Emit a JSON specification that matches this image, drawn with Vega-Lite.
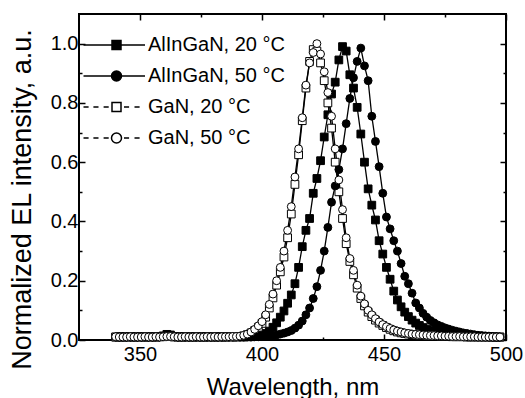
{
"$schema": "https://vega.github.io/schema/vega-lite/v6.json",
"width": 427, "height": 326,
"autosize": "none",
"padding": {"left": 79, "top": 14, "right": 19, "bottom": 58},
"background": "white",
"config": {
  "view": {"stroke": "black", "strokeWidth": 2},
  "font": "Liberation Sans",
  "axis": {"domain": false, "grid": false, "tickColor": "black", "tickWidth": 1.5, "labelColor": "black", "labelFont": "Liberation Sans", "labelFontSize": 20, "titleFont": "Liberation Sans", "titleColor": "black", "titleFontWeight": "normal", "labelFlush": false, "labelOverlap": false},
  "legend": {"labelFont": "Liberation Sans", "labelColor": "black", "symbolOpacity": 1}
},
"data": {"values": [
{"s":"A20","w":340,"v":0.01},{"s":"A20","w":341.5,"v":0.011},{"s":"A20","w":343,"v":0.01},{"s":"A20","w":344.5,"v":0.01},{"s":"A20","w":346,"v":0.011},{"s":"A20","w":347.5,"v":0.01},{"s":"A20","w":349,"v":0.01},{"s":"A20","w":350.5,"v":0.011},{"s":"A20","w":352,"v":0.01},{"s":"A20","w":353.5,"v":0.01},{"s":"A20","w":355,"v":0.011},{"s":"A20","w":356.5,"v":0.01},{"s":"A20","w":358,"v":0.011},{"s":"A20","w":359.5,"v":0.014},{"s":"A20","w":361,"v":0.019},{"s":"A20","w":362.5,"v":0.017},{"s":"A20","w":364,"v":0.012},{"s":"A20","w":365.5,"v":0.01},{"s":"A20","w":367,"v":0.01},{"s":"A20","w":368.5,"v":0.011},{"s":"A20","w":370,"v":0.01},{"s":"A20","w":371.5,"v":0.01},{"s":"A20","w":373,"v":0.011},{"s":"A20","w":374.5,"v":0.01},{"s":"A20","w":376,"v":0.01},{"s":"A20","w":377.5,"v":0.011},{"s":"A20","w":379,"v":0.01},{"s":"A20","w":380.5,"v":0.01},{"s":"A20","w":382,"v":0.011},{"s":"A20","w":383.5,"v":0.01},{"s":"A20","w":385,"v":0.01},{"s":"A20","w":386.5,"v":0.011},{"s":"A20","w":388,"v":0.01},{"s":"A20","w":389.5,"v":0.01},{"s":"A20","w":391,"v":0.011},{"s":"A20","w":392.5,"v":0.01},{"s":"A20","w":394,"v":0.011},{"s":"A20","w":395.5,"v":0.011},{"s":"A20","w":397,"v":0.012},{"s":"A20","w":398.5,"v":0.014},{"s":"A20","w":400,"v":0.017},{"s":"A20","w":401.5,"v":0.022},{"s":"A20","w":403,"v":0.03},{"s":"A20","w":404.5,"v":0.043},{"s":"A20","w":406,"v":0.058},{"s":"A20","w":407.5,"v":0.077},{"s":"A20","w":409,"v":0.098},{"s":"A20","w":410.5,"v":0.124},{"s":"A20","w":412,"v":0.152},{"s":"A20","w":413.5,"v":0.19},{"s":"A20","w":415,"v":0.245},{"s":"A20","w":416.5,"v":0.315},{"s":"A20","w":418,"v":0.37},{"s":"A20","w":419.5,"v":0.41},{"s":"A20","w":421,"v":0.495},{"s":"A20","w":422.5,"v":0.545},{"s":"A20","w":424,"v":0.605},{"s":"A20","w":425.5,"v":0.685},{"s":"A20","w":427,"v":0.76},{"s":"A20","w":428.5,"v":0.83},{"s":"A20","w":430,"v":0.87},{"s":"A20","w":431.5,"v":0.945},{"s":"A20","w":433,"v":0.99},{"s":"A20","w":434.5,"v":0.975},{"s":"A20","w":436,"v":0.895},{"s":"A20","w":437.5,"v":0.85},{"s":"A20","w":439,"v":0.785},{"s":"A20","w":440.5,"v":0.695},{"s":"A20","w":442,"v":0.6},{"s":"A20","w":443.5,"v":0.51},{"s":"A20","w":445,"v":0.455},{"s":"A20","w":446.5,"v":0.405},{"s":"A20","w":448,"v":0.335},{"s":"A20","w":449.5,"v":0.29},{"s":"A20","w":451,"v":0.245},{"s":"A20","w":452.5,"v":0.205},{"s":"A20","w":454,"v":0.165},{"s":"A20","w":455.5,"v":0.135},{"s":"A20","w":457,"v":0.112},{"s":"A20","w":458.5,"v":0.094},{"s":"A20","w":460,"v":0.079},{"s":"A20","w":461.5,"v":0.067},{"s":"A20","w":463,"v":0.057},{"s":"A20","w":464.5,"v":0.049},{"s":"A20","w":466,"v":0.042},{"s":"A20","w":467.5,"v":0.037},{"s":"A20","w":469,"v":0.032},{"s":"A20","w":470.5,"v":0.028},{"s":"A20","w":472,"v":0.025},{"s":"A20","w":473.5,"v":0.022},{"s":"A20","w":475,"v":0.02},{"s":"A20","w":476.5,"v":0.018},{"s":"A20","w":478,"v":0.017},{"s":"A20","w":479.5,"v":0.016},{"s":"A20","w":481,"v":0.015},{"s":"A20","w":482.5,"v":0.014},{"s":"A20","w":484,"v":0.013},{"s":"A20","w":485.5,"v":0.013},{"s":"A20","w":487,"v":0.012},{"s":"A20","w":488.5,"v":0.012},{"s":"A20","w":490,"v":0.011},{"s":"A20","w":491.5,"v":0.011},{"s":"A20","w":493,"v":0.011},{"s":"A20","w":494.5,"v":0.01},{"s":"A20","w":496,"v":0.01},{"s":"A20","w":497.5,"v":0.01},
{"s":"A50","w":340,"v":0.01},{"s":"A50","w":341.5,"v":0.01},{"s":"A50","w":343,"v":0.011},{"s":"A50","w":344.5,"v":0.01},{"s":"A50","w":346,"v":0.01},{"s":"A50","w":347.5,"v":0.011},{"s":"A50","w":349,"v":0.01},{"s":"A50","w":350.5,"v":0.01},{"s":"A50","w":352,"v":0.011},{"s":"A50","w":353.5,"v":0.01},{"s":"A50","w":355,"v":0.01},{"s":"A50","w":356.5,"v":0.011},{"s":"A50","w":358,"v":0.01},{"s":"A50","w":359.5,"v":0.012},{"s":"A50","w":361,"v":0.016},{"s":"A50","w":362.5,"v":0.015},{"s":"A50","w":364,"v":0.011},{"s":"A50","w":365.5,"v":0.01},{"s":"A50","w":367,"v":0.011},{"s":"A50","w":368.5,"v":0.01},{"s":"A50","w":370,"v":0.01},{"s":"A50","w":371.5,"v":0.011},{"s":"A50","w":373,"v":0.01},{"s":"A50","w":374.5,"v":0.01},{"s":"A50","w":376,"v":0.011},{"s":"A50","w":377.5,"v":0.01},{"s":"A50","w":379,"v":0.01},{"s":"A50","w":380.5,"v":0.011},{"s":"A50","w":382,"v":0.01},{"s":"A50","w":383.5,"v":0.01},{"s":"A50","w":385,"v":0.011},{"s":"A50","w":386.5,"v":0.01},{"s":"A50","w":388,"v":0.01},{"s":"A50","w":389.5,"v":0.011},{"s":"A50","w":391,"v":0.01},{"s":"A50","w":392.5,"v":0.01},{"s":"A50","w":394,"v":0.011},{"s":"A50","w":395.5,"v":0.01},{"s":"A50","w":397,"v":0.011},{"s":"A50","w":398.5,"v":0.011},{"s":"A50","w":400,"v":0.011},{"s":"A50","w":401.5,"v":0.012},{"s":"A50","w":403,"v":0.013},{"s":"A50","w":404.5,"v":0.015},{"s":"A50","w":406,"v":0.017},{"s":"A50","w":407.5,"v":0.02},{"s":"A50","w":409,"v":0.023},{"s":"A50","w":410.5,"v":0.027},{"s":"A50","w":412,"v":0.032},{"s":"A50","w":413.5,"v":0.04},{"s":"A50","w":415,"v":0.05},{"s":"A50","w":416.5,"v":0.064},{"s":"A50","w":418,"v":0.085},{"s":"A50","w":419.5,"v":0.108},{"s":"A50","w":421,"v":0.14},{"s":"A50","w":422.5,"v":0.18},{"s":"A50","w":424,"v":0.235},{"s":"A50","w":425.5,"v":0.3},{"s":"A50","w":427,"v":0.38},{"s":"A50","w":428.5,"v":0.465},{"s":"A50","w":430,"v":0.52},{"s":"A50","w":431.5,"v":0.575},{"s":"A50","w":433,"v":0.645},{"s":"A50","w":434.5,"v":0.73},{"s":"A50","w":436,"v":0.815},{"s":"A50","w":437.5,"v":0.885},{"s":"A50","w":439,"v":0.94},{"s":"A50","w":440.5,"v":0.985},{"s":"A50","w":442,"v":0.925},{"s":"A50","w":443.5,"v":0.875},{"s":"A50","w":445,"v":0.755},{"s":"A50","w":446.5,"v":0.67},{"s":"A50","w":448,"v":0.585},{"s":"A50","w":449.5,"v":0.495},{"s":"A50","w":451,"v":0.415},{"s":"A50","w":452.5,"v":0.375},{"s":"A50","w":454,"v":0.335},{"s":"A50","w":455.5,"v":0.3},{"s":"A50","w":457,"v":0.258},{"s":"A50","w":458.5,"v":0.215},{"s":"A50","w":460,"v":0.19},{"s":"A50","w":461.5,"v":0.158},{"s":"A50","w":463,"v":0.125},{"s":"A50","w":464.5,"v":0.108},{"s":"A50","w":466,"v":0.09},{"s":"A50","w":467.5,"v":0.077},{"s":"A50","w":469,"v":0.066},{"s":"A50","w":470.5,"v":0.058},{"s":"A50","w":472,"v":0.051},{"s":"A50","w":473.5,"v":0.046},{"s":"A50","w":475,"v":0.041},{"s":"A50","w":476.5,"v":0.037},{"s":"A50","w":478,"v":0.033},{"s":"A50","w":479.5,"v":0.03},{"s":"A50","w":481,"v":0.027},{"s":"A50","w":482.5,"v":0.024},{"s":"A50","w":484,"v":0.022},{"s":"A50","w":485.5,"v":0.02},{"s":"A50","w":487,"v":0.018},{"s":"A50","w":488.5,"v":0.016},{"s":"A50","w":490,"v":0.015},{"s":"A50","w":491.5,"v":0.014},{"s":"A50","w":493,"v":0.013},{"s":"A50","w":494.5,"v":0.012},{"s":"A50","w":496,"v":0.011},{"s":"A50","w":497.5,"v":0.01},
{"s":"G20","w":340,"v":0.01},{"s":"G20","w":341.5,"v":0.01},{"s":"G20","w":343,"v":0.01},{"s":"G20","w":344.5,"v":0.011},{"s":"G20","w":346,"v":0.01},{"s":"G20","w":347.5,"v":0.01},{"s":"G20","w":349,"v":0.011},{"s":"G20","w":350.5,"v":0.01},{"s":"G20","w":352,"v":0.01},{"s":"G20","w":353.5,"v":0.011},{"s":"G20","w":355,"v":0.01},{"s":"G20","w":356.5,"v":0.01},{"s":"G20","w":358,"v":0.011},{"s":"G20","w":359.5,"v":0.011},{"s":"G20","w":361,"v":0.013},{"s":"G20","w":362.5,"v":0.012},{"s":"G20","w":364,"v":0.01},{"s":"G20","w":365.5,"v":0.011},{"s":"G20","w":367,"v":0.01},{"s":"G20","w":368.5,"v":0.01},{"s":"G20","w":370,"v":0.011},{"s":"G20","w":371.5,"v":0.01},{"s":"G20","w":373,"v":0.01},{"s":"G20","w":374.5,"v":0.011},{"s":"G20","w":376,"v":0.01},{"s":"G20","w":377.5,"v":0.01},{"s":"G20","w":379,"v":0.011},{"s":"G20","w":380.5,"v":0.01},{"s":"G20","w":382,"v":0.01},{"s":"G20","w":383.5,"v":0.011},{"s":"G20","w":385,"v":0.01},{"s":"G20","w":386.5,"v":0.011},{"s":"G20","w":388,"v":0.011},{"s":"G20","w":389.5,"v":0.011},{"s":"G20","w":391,"v":0.012},{"s":"G20","w":392.5,"v":0.014},{"s":"G20","w":394,"v":0.018},{"s":"G20","w":395.5,"v":0.024},{"s":"G20","w":397,"v":0.032},{"s":"G20","w":398.5,"v":0.043},{"s":"G20","w":400,"v":0.056},{"s":"G20","w":401.5,"v":0.077},{"s":"G20","w":403,"v":0.108},{"s":"G20","w":404.5,"v":0.142},{"s":"G20","w":406,"v":0.185},{"s":"G20","w":407.5,"v":0.23},{"s":"G20","w":409,"v":0.28},{"s":"G20","w":410.5,"v":0.345},{"s":"G20","w":412,"v":0.425},{"s":"G20","w":413.5,"v":0.525},{"s":"G20","w":415,"v":0.625},{"s":"G20","w":416.5,"v":0.74},{"s":"G20","w":418,"v":0.85},{"s":"G20","w":419.5,"v":0.94},{"s":"G20","w":421,"v":0.98},{"s":"G20","w":422.5,"v":0.975},{"s":"G20","w":424,"v":0.935},{"s":"G20","w":425.5,"v":0.875},{"s":"G20","w":427,"v":0.8},{"s":"G20","w":428.5,"v":0.715},{"s":"G20","w":430,"v":0.6},{"s":"G20","w":431.5,"v":0.5},{"s":"G20","w":433,"v":0.41},{"s":"G20","w":434.5,"v":0.325},{"s":"G20","w":436,"v":0.265},{"s":"G20","w":437.5,"v":0.22},{"s":"G20","w":439,"v":0.175},{"s":"G20","w":440.5,"v":0.14},{"s":"G20","w":442,"v":0.115},{"s":"G20","w":443.5,"v":0.094},{"s":"G20","w":445,"v":0.079},{"s":"G20","w":446.5,"v":0.067},{"s":"G20","w":448,"v":0.057},{"s":"G20","w":449.5,"v":0.049},{"s":"G20","w":451,"v":0.042},{"s":"G20","w":452.5,"v":0.036},{"s":"G20","w":454,"v":0.031},{"s":"G20","w":455.5,"v":0.027},{"s":"G20","w":457,"v":0.024},{"s":"G20","w":458.5,"v":0.022},{"s":"G20","w":460,"v":0.02},{"s":"G20","w":461.5,"v":0.018},{"s":"G20","w":463,"v":0.017},{"s":"G20","w":464.5,"v":0.016},{"s":"G20","w":466,"v":0.015},{"s":"G20","w":467.5,"v":0.014},{"s":"G20","w":469,"v":0.014},{"s":"G20","w":470.5,"v":0.013},{"s":"G20","w":472,"v":0.013},{"s":"G20","w":473.5,"v":0.012},{"s":"G20","w":475,"v":0.012},{"s":"G20","w":476.5,"v":0.012},{"s":"G20","w":478,"v":0.011},{"s":"G20","w":479.5,"v":0.011},{"s":"G20","w":481,"v":0.011},{"s":"G20","w":482.5,"v":0.011},{"s":"G20","w":484,"v":0.01},{"s":"G20","w":485.5,"v":0.01},{"s":"G20","w":487,"v":0.01},{"s":"G20","w":488.5,"v":0.01},{"s":"G20","w":490,"v":0.01},{"s":"G20","w":491.5,"v":0.01},{"s":"G20","w":493,"v":0.01},{"s":"G20","w":494.5,"v":0.01},{"s":"G20","w":496,"v":0.01},{"s":"G20","w":497.5,"v":0.01},
{"s":"G50","w":340,"v":0.011},{"s":"G50","w":341.5,"v":0.01},{"s":"G50","w":343,"v":0.01},{"s":"G50","w":344.5,"v":0.01},{"s":"G50","w":346,"v":0.011},{"s":"G50","w":347.5,"v":0.01},{"s":"G50","w":349,"v":0.01},{"s":"G50","w":350.5,"v":0.01},{"s":"G50","w":352,"v":0.011},{"s":"G50","w":353.5,"v":0.01},{"s":"G50","w":355,"v":0.01},{"s":"G50","w":356.5,"v":0.011},{"s":"G50","w":358,"v":0.01},{"s":"G50","w":359.5,"v":0.011},{"s":"G50","w":361,"v":0.012},{"s":"G50","w":362.5,"v":0.012},{"s":"G50","w":364,"v":0.011},{"s":"G50","w":365.5,"v":0.01},{"s":"G50","w":367,"v":0.01},{"s":"G50","w":368.5,"v":0.011},{"s":"G50","w":370,"v":0.01},{"s":"G50","w":371.5,"v":0.01},{"s":"G50","w":373,"v":0.011},{"s":"G50","w":374.5,"v":0.01},{"s":"G50","w":376,"v":0.01},{"s":"G50","w":377.5,"v":0.011},{"s":"G50","w":379,"v":0.01},{"s":"G50","w":380.5,"v":0.011},{"s":"G50","w":382,"v":0.01},{"s":"G50","w":383.5,"v":0.011},{"s":"G50","w":385,"v":0.011},{"s":"G50","w":386.5,"v":0.011},{"s":"G50","w":388,"v":0.012},{"s":"G50","w":389.5,"v":0.012},{"s":"G50","w":391,"v":0.013},{"s":"G50","w":392.5,"v":0.016},{"s":"G50","w":394,"v":0.02},{"s":"G50","w":395.5,"v":0.027},{"s":"G50","w":397,"v":0.036},{"s":"G50","w":398.5,"v":0.048},{"s":"G50","w":400,"v":0.062},{"s":"G50","w":401.5,"v":0.085},{"s":"G50","w":403,"v":0.12},{"s":"G50","w":404.5,"v":0.155},{"s":"G50","w":406,"v":0.2},{"s":"G50","w":407.5,"v":0.245},{"s":"G50","w":409,"v":0.3},{"s":"G50","w":410.5,"v":0.37},{"s":"G50","w":412,"v":0.45},{"s":"G50","w":413.5,"v":0.55},{"s":"G50","w":415,"v":0.645},{"s":"G50","w":416.5,"v":0.75},{"s":"G50","w":418,"v":0.86},{"s":"G50","w":419.5,"v":0.935},{"s":"G50","w":421,"v":0.97},{"s":"G50","w":422.5,"v":1.0},{"s":"G50","w":424,"v":0.965},{"s":"G50","w":425.5,"v":0.905},{"s":"G50","w":427,"v":0.835},{"s":"G50","w":428.5,"v":0.755},{"s":"G50","w":430,"v":0.645},{"s":"G50","w":431.5,"v":0.54},{"s":"G50","w":433,"v":0.44},{"s":"G50","w":434.5,"v":0.345},{"s":"G50","w":436,"v":0.275},{"s":"G50","w":437.5,"v":0.235},{"s":"G50","w":439,"v":0.185},{"s":"G50","w":440.5,"v":0.148},{"s":"G50","w":442,"v":0.122},{"s":"G50","w":443.5,"v":0.1},{"s":"G50","w":445,"v":0.085},{"s":"G50","w":446.5,"v":0.072},{"s":"G50","w":448,"v":0.061},{"s":"G50","w":449.5,"v":0.052},{"s":"G50","w":451,"v":0.045},{"s":"G50","w":452.5,"v":0.039},{"s":"G50","w":454,"v":0.034},{"s":"G50","w":455.5,"v":0.03},{"s":"G50","w":457,"v":0.027},{"s":"G50","w":458.5,"v":0.024},{"s":"G50","w":460,"v":0.022},{"s":"G50","w":461.5,"v":0.02},{"s":"G50","w":463,"v":0.019},{"s":"G50","w":464.5,"v":0.018},{"s":"G50","w":466,"v":0.017},{"s":"G50","w":467.5,"v":0.016},{"s":"G50","w":469,"v":0.015},{"s":"G50","w":470.5,"v":0.015},{"s":"G50","w":472,"v":0.014},{"s":"G50","w":473.5,"v":0.014},{"s":"G50","w":475,"v":0.013},{"s":"G50","w":476.5,"v":0.013},{"s":"G50","w":478,"v":0.012},{"s":"G50","w":479.5,"v":0.012},{"s":"G50","w":481,"v":0.012},{"s":"G50","w":482.5,"v":0.011},{"s":"G50","w":484,"v":0.011},{"s":"G50","w":485.5,"v":0.011},{"s":"G50","w":487,"v":0.011},{"s":"G50","w":488.5,"v":0.01},{"s":"G50","w":490,"v":0.01},{"s":"G50","w":491.5,"v":0.01},{"s":"G50","w":493,"v":0.01},{"s":"G50","w":494.5,"v":0.01},{"s":"G50","w":496,"v":0.01},{"s":"G50","w":497.5,"v":0.01}
]},
"layer": [
  {"mark": {"type": "line", "color": "black", "strokeWidth": 1.3},
   "encoding": {
     "x": {"field": "w", "type": "quantitative", "scale": {"domain": [325, 500], "nice": false, "zero": false},
           "axis": {"orient": "bottom", "values": [350, 400, 450, 500], "tickSize": -6, "labelPadding": 10, "title": "Wavelength, nm", "titleFontSize": 24, "titleY": 54, "titleBaseline": "alphabetic"}},
     "y": {"field": "v", "type": "quantitative", "scale": {"domain": [0, 1.1], "nice": false, "zero": true},
           "axis": {"orient": "left", "values": [0, 0.2, 0.4, 0.6, 0.8, 1.0], "format": ".1f", "tickSize": -6, "labelPadding": 7, "title": "Normalized EL intensity, a.u.", "titleFontSize": 27, "titleX": -49, "titleY": 185, "titleBaseline": "alphabetic"}},
     "detail": {"field": "s", "type": "nominal"}
   }},
  {"transform": [{"filter": "datum.s == 'A20' || datum.s == 'G20'"}],
   "mark": {"type": "point", "shape": "square", "size": 60, "opacity": 1, "stroke": "black", "strokeWidth": 1},
   "encoding": {
     "x": {"field": "w", "type": "quantitative", "scale": {"domain": [325, 500], "nice": false, "zero": false},
           "axis": {"orient": "bottom", "values": [375, 425, 475], "tickSize": -3, "labels": false, "title": null}},
     "y": {"field": "v", "type": "quantitative", "scale": {"domain": [0, 1.1], "nice": false, "zero": true},
           "axis": {"orient": "left", "values": [0.1, 0.3, 0.5, 0.7, 0.9], "tickSize": -3, "labels": false, "title": null}},
     "fill": {"condition": {"test": "datum.s == 'A20'", "value": "black"}, "value": "white"}
   }},
  {"transform": [{"filter": "datum.s == 'A50' || datum.s == 'G50'"}],
   "mark": {"type": "point", "shape": "circle", "size": 62, "opacity": 1, "stroke": "black", "strokeWidth": 1},
   "encoding": {
     "x": {"field": "w", "type": "quantitative", "scale": {"domain": [325, 500], "nice": false, "zero": false}, "axis": null},
     "y": {"field": "v", "type": "quantitative", "scale": {"domain": [0, 1.1], "nice": false, "zero": true}, "axis": null},
     "fill": {"condition": {"test": "datum.s == 'A50'", "value": "black"}, "value": "white"}
   }},
  {"transform": [{"filter": "datum.v > 5"}],
   "mark": {"type": "point", "opacity": 0},
   "encoding": {
     "x": {"field": "w", "type": "quantitative", "scale": {"domain": [325, 500], "nice": false, "zero": false},
           "axis": {"orient": "top", "values": [350, 400, 450, 500], "tickSize": -6, "labels": false, "title": null}},
     "y": {"field": "v", "type": "quantitative", "scale": {"domain": [0, 1.1], "nice": false, "zero": true},
           "axis": {"orient": "right", "values": [0, 0.2, 0.4, 0.6, 0.8, 1.0], "tickSize": -6, "labels": false, "title": null}}
   }},
  {"transform": [{"filter": "datum.v > 5"}],
   "mark": {"type": "point", "opacity": 0},
   "encoding": {
     "x": {"field": "w", "type": "quantitative", "scale": {"domain": [325, 500], "nice": false, "zero": false},
           "axis": {"orient": "top", "values": [375, 425, 475], "tickSize": -3, "labels": false, "title": null}},
     "y": {"field": "v", "type": "quantitative", "scale": {"domain": [0, 1.1], "nice": false, "zero": true},
           "axis": {"orient": "right", "values": [0.1, 0.3, 0.5, 0.7, 0.9], "tickSize": -3, "labels": false, "title": null}}
   }},
  {"transform": [{"filter": "datum.v > 5"}],
   "mark": {"type": "point", "filled": true, "opacity": 1},
   "encoding": {
     "x": {"field": "w", "type": "quantitative", "scale": {"domain": [325, 500], "nice": false, "zero": false}, "axis": null},
     "y": {"field": "v", "type": "quantitative", "scale": {"domain": [0, 1.1], "nice": false, "zero": true}, "axis": null},
     "shape": {"field": "s", "type": "nominal",
               "scale": {"domain": ["A20", "A50", "G20", "G50"], "range": ["M-3.3,0H-0.45M0.45,0H2.85M-0.45,-0.45H0.45V0.45H-0.45Z", "M-3.3,0H-0.5M0.5,0H2.85M-0.5,0A0.5,0.5,0,1,0,0.5,0A0.5,0.5,0,1,0,-0.5,0Z", "M-3.3,0H-2.79M-2.31,0H-1.8M-1.29,0H-0.78M0.75,0H1.26M1.8,0H2.31M-0.45,-0.45H0.45V0.45H-0.45Z", "M-3.3,0H-2.79M-2.31,0H-1.8M-1.29,0H-0.78M0.75,0H1.26M1.8,0H2.31M-0.5,0A0.5,0.5,0,1,0,0.5,0A0.5,0.5,0,1,0,-0.5,0Z"]},
               "legend": {"title": null, "orient": "none", "legendX": 26.5, "legendY": 20, "symbolSize": 400, "symbolStrokeWidth": 1.5, "symbolOpacity": 1, "labelFontSize": 20, "labelOffset": 20.5, "rowPadding": 10,
                          "labelExpr": "datum.label == 'A20' ? 'AlInGaN, 20 °C' : datum.label == 'A50' ? 'AlInGaN, 50 °C' : datum.label == 'G20' ? 'GaN, 20 °C' : 'GaN, 50 °C'"}},
     "fill": {"field": "s", "type": "nominal", "scale": {"domain": ["A20", "A50", "G20", "G50"], "range": ["black", "black", "white", "white"]},
              "legend": {"title": null, "orient": "none", "legendX": 26.5, "legendY": 20, "symbolSize": 400, "symbolStrokeWidth": 1.5, "symbolOpacity": 1, "labelFontSize": 20, "labelOffset": 20.5, "rowPadding": 10,
                         "labelExpr": "datum.label == 'A20' ? 'AlInGaN, 20 °C' : datum.label == 'A50' ? 'AlInGaN, 50 °C' : datum.label == 'G20' ? 'GaN, 20 °C' : 'GaN, 50 °C'"}},
     "stroke": {"field": "s", "type": "nominal", "scale": {"domain": ["A20", "A50", "G20", "G50"], "range": ["black", "black", "black", "black"]},
                "legend": {"title": null, "orient": "none", "legendX": 26.5, "legendY": 20, "symbolSize": 400, "symbolStrokeWidth": 1.5, "symbolOpacity": 1, "labelFontSize": 20, "labelOffset": 20.5, "rowPadding": 10,
                           "labelExpr": "datum.label == 'A20' ? 'AlInGaN, 20 °C' : datum.label == 'A50' ? 'AlInGaN, 50 °C' : datum.label == 'G20' ? 'GaN, 20 °C' : 'GaN, 50 °C'"}}
   }}
],
"resolve": {"axis": {"x": "independent", "y": "independent"}}
}
